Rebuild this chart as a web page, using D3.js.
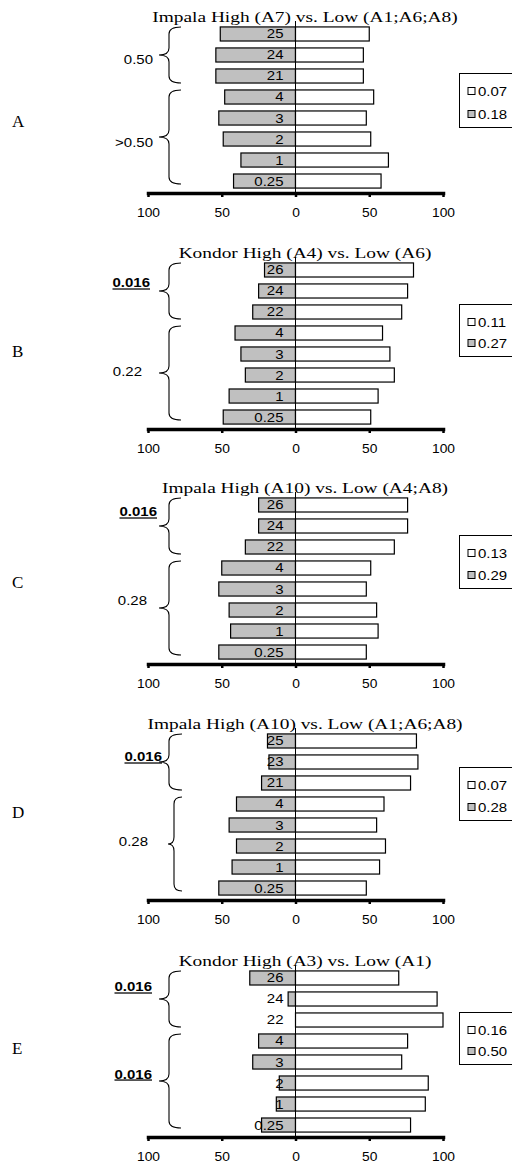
<!DOCTYPE html>
<html>
<head>
<meta charset="UTF-8">
<title>High vs Low</title>
<script src="https://cdn.jsdelivr.net/npm/d3@7"></script>
<style>
body { margin: 0; background: #fff; }
</style>
</head>
<body>
<svg class="chart" width="512" height="1165"></svg>
<script>
// chart data
var titles = ["Impala High (A7) vs. Low (A1;A6;A8)",
              "Kondor High (A4) vs. Low (A6)",
              "Impala High (A10) vs. Low (A4;A8)",
              "Impala High (A10) vs. Low (A1;A6;A8)",
              "Kondor High (A3) vs. Low (A1)"];
var panelLetters = ["A", "B", "C", "D", "E"];
var categories = [
  ["25", "24", "21", "4", "3", "2", "1", "0.25"],
  ["26", "24", "22", "4", "3", "2", "1", "0.25"],
  ["26", "24", "22", "4", "3", "2", "1", "0.25"],
  ["25", "23", "21", "4", "3", "2", "1", "0.25"],
  ["26", "24", "22", "4", "3", "2", "1", "0.25"]
];
// grey bars (left side)
var greyValues = [
  [51, 54, 54, 48, 52, 49, 37, 42],
  [21, 25, 29, 41, 37, 34, 45, 49],
  [25, 25, 34, 50, 52, 45, 44, 52],
  [19, 18, 23, 40, 45, 40, 43, 52],
  [31, 5, 0, 25, 29, 11, 13, 23]
];
// white bars (right side)
var whiteValues = [
  [50, 46, 46, 53, 48, 51, 63, 58],
  [80, 76, 72, 59, 64, 67, 56, 51],
  [76, 76, 67, 51, 48, 55, 56, 48],
  [82, 83, 78, 60, 55, 61, 57, 48],
  [70, 96, 100, 76, 72, 90, 88, 78]
];
var upperLabels = ["0.50", "0.016", "0.016", "0.016", "0.016"];
var lowerLabels = [">0.50", "0.22", "0.28", "0.28", "0.016"];
var whiteLegend = ["0.07", "0.11", "0.13", "0.07", "0.16"];
var greyLegend = ["0.18", "0.27", "0.29", "0.28", "0.50"];
var tickValues = [-100, -50, 0, 50, 100];

// layout
var axisY = [193, 429, 664, 900, 1137];
var letterY = [127, 357, 588, 818, 1054];
var legendY = [[91, 114], [322, 343], [553, 575], [785, 807], [1030, 1051]];
// label y offset from brace tip, [upper, lower]
var labelDy = [[5, 5], [-8, -2], [-14, -8], [-5, -3], [-12, -7]];
var labelRight = [[153, 153], [150, 142], [157, 147], [162, 148], [152, 152]];
var stretch = 1.2;

var svg = d3.select(".chart");

var x = d3.scaleLinear().domain([-100, 100]).range([148, 443]);

function brace(y0, y1, xe, xs, xt) {
  var ym = (y0 + y1) / 2, r = 7;
  return "M" + xe + "," + y0 +
    " Q" + xs + "," + y0 + " " + xs + "," + (y0 + r) +
    " L" + xs + "," + (ym - r) +
    " Q" + xs + "," + ym + " " + xt + "," + ym +
    " Q" + xs + "," + ym + " " + xs + "," + (ym + r) +
    " L" + xs + "," + (y1 - r) +
    " Q" + xs + "," + y1 + " " + xe + "," + y1;
}

function stretchedText(parent, tx, ty, str, anchor, size, family, weight, sx) {
  var g = parent.append("g")
    .attr("transform", "translate(" + tx + "," + ty + ") scale(" + (sx || stretch) + ",1)");
  return g.append("text")
    .attr("text-anchor", anchor)
    .style("font-family", family || "Liberation Sans, Arial, sans-serif")
    .style("font-size", size + "px")
    .style("font-weight", weight || "normal")
    .text(str);
}

titles.forEach(function(title, i) {
  var cats = categories[i];
  var rows = cats.map(function(c, j) {
    return { cat: c, grey: greyValues[i][j], white: whiteValues[i][j] };
  });

  // panel letter
  svg.append("text")
    .attr("x", 12)
    .attr("y", letterY[i])
    .style("font-family", "Liberation Serif, Times New Roman, serif")
    .style("font-size", "17px")
    .text(panelLetters[i]);

  var g = svg.append("g").attr("transform", "translate(0," + axisY[i] + ")");

  var y = d3.scaleBand().domain(cats).range([-173, 2]).padding(0.33);
  var bw = y.bandwidth();

  // title
  stretchedText(g, 305, -171, title, "middle", 15.5, "Liberation Serif, Times New Roman, serif", null, 1.25);

  // bars
  g.selectAll(".grey").data(rows).enter()
    .append("rect")
    .attr("class", "grey")
    .attr("x", function(d) { return x(-d.grey); })
    .attr("y", function(d) { return y(d.cat); })
    .attr("width", function(d) { return x(0) - x(-d.grey); })
    .attr("height", bw)
    .attr("fill", "#c0c0c0")
    .attr("stroke", function(d) { return d.grey > 0 ? "#000" : "none"; })
    .attr("stroke-width", 1.2);

  g.selectAll(".white").data(rows).enter()
    .append("rect")
    .attr("class", "white")
    .attr("x", x(0))
    .attr("y", function(d) { return y(d.cat); })
    .attr("width", function(d) { return x(d.white) - x(0); })
    .attr("height", bw)
    .attr("fill", "#fff")
    .attr("stroke", "#000")
    .attr("stroke-width", 1.2);

  // centre line
  g.append("line")
    .attr("x1", x(0)).attr("x2", x(0))
    .attr("y1", -172).attr("y2", 0)
    .attr("stroke", "#000")
    .attr("stroke-width", 1);

  // category labels
  rows.forEach(function(d) {
    stretchedText(g, x(0) - 12, y(d.cat) + bw / 2 + 4.5, d.cat, "end", 12.5);
  });

  // axis
  var axis = g.append("g")
    .attr("class", "xAxis")
    .call(d3.axisBottom(x)
      .tickValues(tickValues)
      .tickSize(4)
      .tickSizeOuter(0)
      .tickPadding(11)
      .tickFormat(function(d) { return Math.abs(d); }));
  axis.select(".domain").attr("stroke-width", 3.5).attr("stroke-linecap", "square");
  axis.selectAll(".tick line").attr("stroke-width", 2.5);
  axis.selectAll(".tick text")
    .attr("transform", "scale(1.15,1)")
    .style("font-family", "Liberation Sans, Arial, sans-serif")
    .style("font-size", "12px")
    .attr("fill", "#000");

  // braces
  var upper = [y(cats[0]), y(cats[2]) + bw];
  var lower = [y(cats[3]), y(cats[7]) + bw - 4];
  var braceX = (i === 3) ? [[182, 169, 159], [182, 174, 168]] : [[181, 169, 159], [181, 169, 159]];
  [upper, lower].forEach(function(rng, k) {
    var bx = braceX[k];
    g.append("path")
      .attr("d", brace(rng[0], rng[1], bx[0], bx[1], bx[2]))
      .attr("fill", "none")
      .attr("stroke", "#000")
      .attr("stroke-width", 1.1);
    var lab = (k === 0 ? upperLabels : lowerLabels)[i];
    var sig = parseFloat(lab) < 0.05;
    var t = stretchedText(g, labelRight[i][k], (rng[0] + rng[1]) / 2 + labelDy[i][k] + 4.5,
      lab, "end", 12.5, null, sig ? "bold" : "normal");
    if (sig) t.style("text-decoration", "underline");
  });

  // legend
  var ly = legendY[i];
  svg.append("rect")
    .attr("x", 459.5).attr("y", ly[0] - 17.5)
    .attr("width", 80).attr("height", ly[1] - ly[0] + 31)
    .attr("fill", "#fff")
    .attr("stroke", "#000")
    .attr("stroke-width", 1);
  [["#fff", whiteLegend[i]], ["#c0c0c0", greyLegend[i]]].forEach(function(e, k) {
    svg.append("rect")
      .attr("x", 468).attr("y", ly[k] - 3.5)
      .attr("width", 7).attr("height", 7)
      .attr("fill", e[0])
      .attr("stroke", "#000")
      .attr("stroke-width", 1);
    stretchedText(svg, 478, ly[k] + 4.5, e[1], "start", 12.5);
  });
});
</script>
</body>
</html>
